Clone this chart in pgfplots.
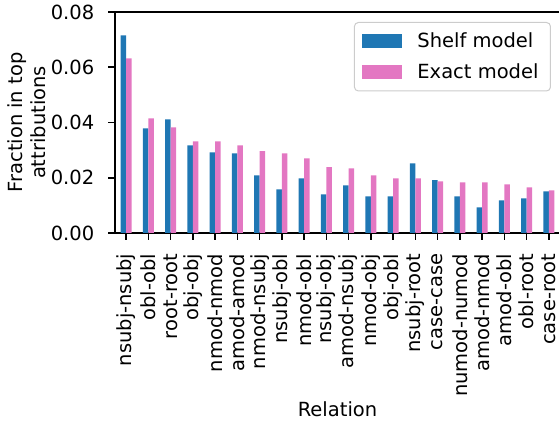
\documentclass[border=0pt]{standalone}
\usepackage{pgfplots}
\pgfplotsset{compat=1.18}
\usepackage{pgfplotstable}
\usepackage{fontspec}
\setmainfont{DejaVu Sans}
\definecolor{tabblue}{HTML}{1F77B4}
\definecolor{tabpink}{HTML}{E377C2}
\pgfplotstableread{
idx label S E
0 nsubj-nsubj 0.0715 0.0632
1 obl-obl 0.0379 0.0415
2 root-root 0.0411 0.0382
3 obj-obj 0.0317 0.0332
4 nmod-nmod 0.0292 0.0332
5 amod-amod 0.0288 0.0317
6 nmod-nsubj 0.0209 0.0296
7 nsubj-obl 0.0158 0.0288
8 nmod-obl 0.0198 0.0270
9 nsubj-obj 0.0140 0.0238
10 amod-nsubj 0.0172 0.0234
11 nmod-obj 0.0133 0.0209
12 obj-obl 0.0133 0.0198
13 nsubj-root 0.0252 0.0198
14 case-case 0.0191 0.0187
15 numod-numod 0.0133 0.0183
16 amod-nmod 0.0093 0.0183
17 amod-obl 0.0118 0.0176
18 obl-root 0.0125 0.0165
19 case-root 0.0151 0.0154
}\datatable
\begin{document}
\fontsize{9.75pt}{11.7pt}\selectfont
\begin{tikzpicture}
\path[use as bounding box] (-57.5pt,-94pt) rectangle (222pt,116.5pt);
\begin{axis}[
  at={(0pt,0pt)}, anchor=south west,
  scale only axis,
  width=222.5pt, height=110.5pt,
  xmin=-0.5, xmax=19.5,
  ymin=0, ymax=0.08,
  ybar=0pt, bar width=0.25,
  xtick={0,...,19},
  xticklabels from table={\datatable}{label},
  ytick={0,0.02,0.04,0.06,0.08},
  scaled y ticks=false,
  /pgf/number format/.cd, fixed, fixed zerofill, precision=2, assume math mode=true,
  /pgfplots/.cd,
  tick align=outside,
  xtick pos=bottom, ytick pos=left,
  major tick length=3.4pt,
  tick style={line width=0.78pt, black},
  axis line style={line width=0.78pt, black},
  xticklabel style={rotate=90, anchor=east, inner sep=0pt, xshift=-6.8pt, font=\fontsize{9.75pt}{11.7pt}\selectfont},
  yticklabel style={anchor=east, inner sep=0pt, xshift=-6.8pt, font=\fontsize{9.75pt}{11.7pt}\selectfont},
  xlabel={Relation},
  ylabel={Fraction in top\\attributions},
  xlabel style={at={(axis description cs:0.5,0)}, anchor=base, yshift=-92pt, inner sep=0pt},
  ylabel style={at={(axis description cs:-0.1978,0.5)}, anchor=center, align=center, inner sep=0pt},
  legend style={at={(1,1)}, anchor=north east, xshift=-4.5pt, yshift=-5pt,
    draw=black!20, line width=0.5pt, rounded corners=2pt,
    inner xsep=4pt, inner ysep=3pt, row sep=2.5pt, column sep=5.5pt,
    font=\fontsize{9.75pt}{11.7pt}\selectfont},
  legend cell align=left,
  legend image code/.code={\fill[#1, sharp corners] (0pt,-3.5pt) rectangle (20pt,3.5pt);},
]
\addplot[fill=tabblue, draw=none] table[x=idx, y=S] {\datatable};
\addplot[fill=tabpink, draw=none] table[x=idx, y=E] {\datatable};
\legend{Shelf model, Exact model}
\end{axis}
\end{tikzpicture}
\end{document}
